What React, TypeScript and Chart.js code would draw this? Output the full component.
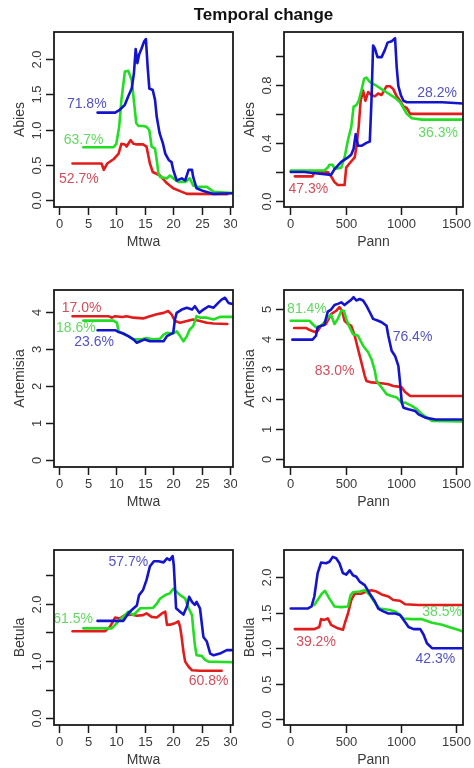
import React, { useEffect, useRef } from 'react';
import { Chart, registerables } from 'chart.js';

Chart.register(...registerables);

type Pt = [number, number];

// ---------- tick values / labels ----------
const mtwaTicks = [0, 5, 10, 15, 20, 25, 30];
const pannTicks = [0, 500, 1000, 1500];
const abiesMtwaYTicks = [0, 0.5, 1, 1.5, 2];
const abiesMtwaYLabels = ['0.0', '0.5', '1.0', '1.5', '2.0'];
const abiesPannYTicks = [0, 0.2, 0.4, 0.6, 0.8, 1.0];
const abiesPannYLabels = ['0.0', '', '0.4', '', '0.8', ''];
const artMtwaYTicks = [0, 1, 2, 3, 4];
const artMtwaYLabels = ['0', '1', '2', '3', '4'];
const artPannYTicks = [0, 1, 2, 3, 4, 5];
const artPannYLabels = ['0', '1', '2', '3', '4', '5'];
const betMtwaYTicks = [0, 0.5, 1, 1.5, 2, 2.5];
const betMtwaYLabels = ['0.0', '', '1.0', '', '2.0', ''];
const betPannYTicks = [0, 0.5, 1, 1.5, 2];
const betPannYLabels = ['0.0', '0.5', '1.0', '1.5', '2.0'];

// ---------- series (x, y) ----------
// Abies ~ Mtwa
const abiesMtwaRed: Pt[] = [[2.3,0.52],[7.4,0.52],[7.8,0.43],[8.4,0.52],[9.5,0.58],[10.4,0.66],[10.9,0.80],[11.5,0.79],[11.8,0.76],[12.1,0.80],[12.5,0.85],[13,0.80],[13.6,0.79],[14.7,0.79],[15.3,0.76],[15.6,0.64],[15.9,0.52],[16.4,0.40],[17.7,0.35],[18.9,0.24],[20,0.17],[21.2,0.13],[22.4,0.09],[23.5,0.09],[29.5,0.085]];
const abiesMtwaGreen: Pt[] = [[4.2,0.75],[9.5,0.75],[10,0.8],[10.5,1.04],[10.9,1.42],[11.5,1.82],[12.1,1.83],[12.7,1.70],[13.2,1.32],[13.5,1.09],[13.9,1.05],[14.7,1.05],[15.3,1.04],[15.8,0.99],[16.2,0.76],[16.8,0.73],[17.1,0.57],[17.4,0.38],[17.7,0.33],[18.9,0.31],[19.4,0.35],[20,0.31],[20.9,0.26],[22.1,0.26],[22.9,0.31],[23.5,0.21],[24.1,0.19],[25.9,0.19],[27.1,0.12],[30.6,0.10]];
const abiesMtwaBlue: Pt[] = [[6.7,1.24],[9.8,1.24],[10.6,1.28],[11.5,1.35],[12.1,1.47],[12.7,1.58],[13.1,1.80],[13.4,2.14],[13.7,1.94],[14.0,2.06],[14.4,2.14],[14.9,2.25],[15.2,2.28],[15.5,1.89],[15.8,1.58],[16.4,1.56],[16.8,1.42],[17.1,1.18],[17.6,0.95],[18.2,0.80],[18.6,0.66],[19.2,0.57],[19.7,0.54],[20.0,0.43],[20.6,0.28],[21.5,0.31],[22.1,0.28],[22.7,0.43],[23.3,0.43],[23.5,0.33],[24.1,0.17],[25.3,0.13],[27.1,0.09],[30.6,0.1]];

// Abies ~ Pann
const abiesPannRed: Pt[] = [[40,0.17],[201,0.17],[217,0.2],[339,0.2],[369,0.17],[400,0.13],[430,0.11],[491,0.11],[506,0.23],[537,0.26],[583,0.30],[598,0.37],[619,0.51],[637,0.69],[659,0.76],[680,0.69],[705,0.75],[735,0.73],[766,0.72],[796,0.74],[827,0.73],[872,0.79],[903,0.79],[933,0.77],[964,0.72],[994,0.69],[1025,0.65],[1055,0.64],[1086,0.60],[1147,0.60],[1589,0.60]];
const abiesPannGreen: Pt[] = [[3,0.21],[308,0.21],[339,0.23],[354,0.25],[384,0.25],[400,0.22],[461,0.23],[491,0.30],[522,0.42],[552,0.51],[573,0.65],[598,0.66],[619,0.69],[644,0.76],[668,0.84],[689,0.85],[720,0.82],[766,0.80],[827,0.77],[888,0.74],[949,0.71],[994,0.68],[1025,0.64],[1055,0.60],[1101,0.57],[1193,0.56],[1589,0.56]];
const abiesPannBlue: Pt[] = [[3,0.2],[125,0.2],[247,0.19],[369,0.18],[400,0.22],[461,0.27],[522,0.30],[552,0.32],[573,0.36],[592,0.46],[613,0.38],[644,0.38],[689,0.40],[720,0.41],[735,0.69],[750,1.07],[766,1.05],[790,0.99],[827,0.99],[857,1.04],[881,1.09],[918,1.10],[949,1.12],[964,0.92],[979,0.79],[1001,0.73],[1025,0.69],[1055,0.68],[1254,0.68],[1376,0.68],[1589,0.67]];

// Artemisia ~ Mtwa
const artMtwaRed: Pt[] = [[2.3,3.89],[8.6,3.89],[9.2,3.85],[9.8,3.89],[11,3.87],[11.8,3.89],[13,3.85],[14.7,3.83],[15.9,3.89],[17.1,3.94],[18.3,3.98],[19.1,4.03],[19.7,3.94],[20.3,3.76],[21.2,3.71],[22.4,3.76],[23.5,3.80],[24.7,3.76],[25.9,3.71],[27.1,3.69],[29.5,3.68]];
const artMtwaGreen: Pt[] = [[4.2,3.77],[9.5,3.77],[10.1,3.71],[10.4,3.48],[11.2,3.42],[12.1,3.35],[13,3.26],[14.2,3.26],[15.3,3.30],[16.5,3.26],[17.7,3.28],[18.3,3.39],[18.9,3.44],[20,3.42],[20.6,3.48],[21.2,3.35],[21.8,3.21],[22.4,3.35],[22.9,3.53],[23.5,3.62],[24.1,3.89],[24.7,3.85],[25.9,3.85],[27.1,3.80],[28.2,3.87],[30.6,3.87]];
const artMtwaBlue: Pt[] = [[6.7,3.51],[9.8,3.51],[10.4,3.46],[11.2,3.42],[12.1,3.35],[13.0,3.26],[13.6,3.17],[14.2,3.21],[15.0,3.26],[15.9,3.21],[17.1,3.21],[18.3,3.21],[18.9,3.35],[19.4,3.39],[20,3.44],[20.3,3.80],[20.6,3.98],[21.5,4.07],[22.4,4.12],[23.3,4.07],[23.8,4.16],[24.6,3.98],[25.3,4.07],[26.2,4.16],[27.1,4.12],[27.9,4.25],[28.5,4.34],[29.1,4.39],[29.7,4.25],[30.6,4.21]];

// Artemisia ~ Pann
const artPannRed: Pt[] = [[34,4.37],[140,4.37],[171,4.31],[217,4.24],[247,4.27],[278,4.44],[323,4.5],[369,4.83],[415,4.94],[445,5.06],[467,4.94],[491,4.61],[522,4.5],[552,4.44],[583,4.11],[613,3.67],[644,3.22],[674,2.78],[689,2.61],[735,2.56],[827,2.53],[888,2.5],[933,2.44],[979,2.42],[1010,2.39],[1040,2.24],[1086,2.11],[1193,2.11],[1589,2.11]];
const artPannGreen: Pt[] = [[3,4.61],[171,4.61],[201,4.5],[232,4.39],[278,4.44],[308,4.56],[339,4.72],[369,4.8],[400,4.5],[430,4.67],[461,4.94],[485,4.94],[506,4.67],[537,4.39],[567,4.17],[613,4.11],[659,3.78],[705,3.56],[735,3.33],[766,2.94],[781,2.61],[827,2.39],[872,2.17],[918,2.11],[964,2.06],[1010,1.89],[1040,1.89],[1101,1.78],[1147,1.67],[1193,1.5],[1284,1.28],[1589,1.26]];
const artPannBlue: Pt[] = [[18,3.98],[201,3.98],[232,4.11],[247,4.39],[278,4.44],[308,4.47],[339,4.91],[369,4.98],[400,5.13],[430,5.17],[461,5.22],[491,5.13],[522,5.22],[552,5.31],[573,5.39],[598,5.28],[628,5.33],[659,5.28],[689,5.11],[720,4.89],[750,4.67],[796,4.61],[827,4.56],[872,4.44],[888,4.11],[918,3.61],[949,3.44],[979,3.11],[994,2.56],[1010,1.89],[1025,1.72],[1071,1.67],[1132,1.61],[1162,1.5],[1223,1.39],[1315,1.33],[1589,1.33]];

// Betula ~ Mtwa
const betMtwaRed: Pt[] = [[2.3,1.52],[8.0,1.52],[8.9,1.6],[9.8,1.76],[10.6,1.74],[11.5,1.8],[12.7,1.81],[13.6,1.79],[14.7,1.8],[15.3,1.83],[16.2,1.77],[17.1,1.76],[18,1.83],[18.6,1.86],[18.9,1.63],[19.7,1.64],[20.3,1.66],[20.9,1.69],[21.2,1.6],[21.5,1.40],[21.8,1.16],[22.1,0.99],[22.7,0.90],[23.3,0.84],[24.7,0.83],[28.5,0.83]];
const betMtwaGreen: Pt[] = [[4.2,1.57],[9.2,1.57],[9.8,1.63],[10.6,1.72],[11.5,1.80],[12.1,1.86],[13,1.80],[14.2,1.92],[15.3,1.92],[16.5,1.93],[17.1,2.0],[17.7,2.09],[18.6,2.15],[19.4,2.18],[20,2.26],[20.6,2.21],[21.2,2.15],[22.1,2.09],[22.7,1.92],[23.3,1.80],[23.5,1.57],[23.8,1.28],[24.1,1.10],[25.0,1.09],[25.6,1.02],[26.2,0.99],[30.6,0.98]];
const betMtwaBlue: Pt[] = [[6.7,1.70],[11.2,1.70],[11.5,1.74],[12.1,1.83],[12.7,1.89],[13.6,1.97],[14,2.15],[14.7,2.24],[15.3,2.41],[15.9,2.65],[16.6,2.74],[17.4,2.74],[18.3,2.72],[18.9,2.79],[19.4,2.76],[19.9,2.83],[20.1,2.67],[20.5,1.92],[21.2,1.86],[21.8,1.81],[22.4,1.95],[22.8,2.12],[23.3,2.03],[23.8,1.98],[24.1,2.03],[24.7,1.92],[25.3,1.42],[25.9,1.34],[26.5,1.13],[27.1,1.10],[28.2,1.13],[29.4,1.19],[30.6,1.19]];

// Betula ~ Pann
const betPannRed: Pt[] = [[40,1.27],[217,1.27],[262,1.30],[278,1.41],[308,1.40],[339,1.42],[369,1.33],[430,1.28],[476,1.26],[497,1.37],[522,1.49],[552,1.68],[583,1.77],[644,1.77],[689,1.80],[735,1.82],[781,1.80],[827,1.76],[888,1.73],[933,1.68],[994,1.67],[1040,1.62],[1162,1.61],[1589,1.61]];
const betPannGreen: Pt[] = [[217,1.61],[247,1.68],[284,1.77],[314,1.81],[354,1.70],[400,1.59],[461,1.58],[522,1.59],[546,1.75],[567,1.79],[628,1.80],[674,1.82],[720,1.75],[750,1.68],[781,1.61],[811,1.56],[857,1.55],[903,1.54],[949,1.52],[994,1.47],[1025,1.42],[1101,1.41],[1193,1.41],[1284,1.36],[1376,1.33],[1437,1.30],[1498,1.27],[1559,1.24],[1589,1.20]];
const betPannBlue: Pt[] = [[3,1.56],[156,1.56],[192,1.59],[217,1.73],[247,2.06],[278,2.21],[323,2.20],[354,2.22],[384,2.29],[415,2.27],[445,2.20],[476,2.06],[506,2.04],[537,2.10],[567,2.03],[598,2.01],[628,1.94],[674,1.89],[720,1.77],[766,1.66],[796,1.56],[842,1.52],[888,1.49],[949,1.49],[994,1.47],[1040,1.37],[1071,1.30],[1117,1.27],[1178,1.27],[1208,1.19],[1238,1.07],[1284,1.00],[1589,1.00]];

// ---------- percentage annotations: [text, x, y] in order blue, green, red ----------
type Ann = [string, number, number];
const abiesMtwaAnn: Ann[] = [['71.8%', 4.8, 1.36], ['63.7%', 4.25, 0.85], ['52.7%', 3.43, 0.30]];
const abiesPannAnn: Ann[] = [['28.2%', 1330, 0.745], ['36.3%', 1339, 0.464], ['47.3%', 162, 0.08]];
const artMtwaAnn: Ann[] = [['23.6%', 6.1, 3.19], ['18.6%', 2.9, 3.57], ['17.0%', 3.9, 4.12]];
const artPannAnn: Ann[] = [['76.4%', 1107, 4.06], ['81.4%', 150, 5.0], ['83.0%', 400, 2.94]];
const betMtwaAnn: Ann[] = [['57.7%', 12.1, 2.73], ['61.5%', 2.4, 1.73], ['60.8%', 26.2, 0.65]];
const betPannAnn: Ann[] = [['42.3%', 1315, 0.84], ['38.5%', 1376, 1.51], ['39.2%', 232, 1.08]];

// ---------- styling ----------
const LINE = { blue: '#1414cc', green: '#22dd22', red: '#e21b1b' };
const TEXT_COLORS = ['#5252c4', '#62d862', '#d24e5c'];
const FONT = '"Liberation Sans", Arial, Helvetica, sans-serif';

interface PanelCfg {
  left: number; top: number; w: number; h: number;
  pad: { left: number; right: number; top: number; bottom: number };
  xMin: number; xMax: number; yMin: number; yMax: number;
  xTicks: number[]; yTicks: number[]; yLabels: string[];
  xTitle: string; yTitle: string;
  blue: Pt[]; green: Pt[]; red: Pt[];
  ann: Ann[];
}

const MTWA = { xMin: -0.95, xMax: 30.5, xTicks: mtwaTicks, xTitle: 'Mtwa' };
const PANN = { xMin: -58, xMax: 1565, xTicks: pannTicks, xTitle: 'Pann' };
const LPAD = { left: 54, right: 4 };
const RPAD = { left: 47, right: 11 };

const panels: PanelCfg[] = [
  { left: 0, top: 0, w: 237, h: 256, pad: { ...LPAD, top: 32, bottom: 49 }, ...MTWA, yMin: -0.095, yMax: 2.38, yTicks: abiesMtwaYTicks, yLabels: abiesMtwaYLabels, yTitle: 'Abies', blue: abiesMtwaBlue, green: abiesMtwaGreen, red: abiesMtwaRed, ann: abiesMtwaAnn },
  { left: 237, top: 0, w: 237, h: 256, pad: { ...RPAD, top: 32, bottom: 49 }, ...PANN, yMin: -0.041, yMax: 1.163, yTicks: abiesPannYTicks, yLabels: abiesPannYLabels, yTitle: 'Abies', blue: abiesPannBlue, green: abiesPannGreen, red: abiesPannRed, ann: abiesPannAnn },
  { left: 0, top: 256, w: 237, h: 256, pad: { ...LPAD, top: 34, bottom: 45 }, ...MTWA, yMin: -0.2, yMax: 4.6, yTicks: artMtwaYTicks, yLabels: artMtwaYLabels, yTitle: 'Artemisia', blue: artMtwaBlue, green: artMtwaGreen, red: artMtwaRed, ann: artMtwaAnn },
  { left: 237, top: 256, w: 237, h: 256, pad: { ...RPAD, top: 34, bottom: 45 }, ...PANN, yMin: -0.25, yMax: 5.63, yTicks: artPannYTicks, yLabels: artPannYLabels, yTitle: 'Artemisia', blue: artPannBlue, green: artPannGreen, red: artPannRed, ann: artPannAnn },
  { left: 0, top: 512, w: 237, h: 256, pad: { ...LPAD, top: 38, bottom: 43 }, ...MTWA, yMin: -0.115, yMax: 2.936, yTicks: betMtwaYTicks, yLabels: betMtwaYLabels, yTitle: 'Betula', blue: betMtwaBlue, green: betMtwaGreen, red: betMtwaRed, ann: betMtwaAnn },
  { left: 237, top: 512, w: 237, h: 256, pad: { ...RPAD, top: 38, bottom: 43 }, ...PANN, yMin: -0.085, yMax: 2.387, yTicks: betPannYTicks, yLabels: betPannYLabels, yTitle: 'Betula', blue: betPannBlue, green: betPannGreen, red: betPannRed, ann: betPannAnn },
];

function makeAxesPlugin(c: PanelCfg) {
  return {
    id: 'rStyleAxes',
    afterDatasetsDraw(chart: any) {
      const { ctx, chartArea: a, scales } = chart;
      const xs = scales.x;
      const ys = scales.y;
      ctx.save();
      ctx.beginPath();
      ctx.rect(a.left, a.top, a.right - a.left, a.bottom - a.top);
      ctx.clip();
      ctx.font = `14px ${FONT}`;
      ctx.textAlign = 'center';
      ctx.textBaseline = 'middle';
      c.ann.forEach((an, i) => {
        ctx.fillStyle = TEXT_COLORS[i];
        ctx.fillText(an[0], xs.getPixelForValue(an[1]), ys.getPixelForValue(an[2]));
      });
      ctx.restore();
    },
    afterDraw(chart: any) {
      const { ctx, chartArea: a, scales } = chart;
      const xs = scales.x;
      const ys = scales.y;
      ctx.save();
      ctx.strokeStyle = '#1a1a1a';
      ctx.lineWidth = 1.8;
      ctx.strokeRect(a.left, a.top, a.right - a.left, a.bottom - a.top);
      ctx.lineWidth = 1.5;
      ctx.fillStyle = '#3a3a3a';
      ctx.font = `13px ${FONT}`;
      ctx.textAlign = 'center';
      ctx.textBaseline = 'middle';
      const tl = 8;
      c.xTicks.forEach((v) => {
        const px = Math.round(xs.getPixelForValue(v)) + 0.5;
        ctx.beginPath();
        ctx.moveTo(px, a.bottom);
        ctx.lineTo(px, a.bottom + tl);
        ctx.stroke();
        ctx.fillText(String(v), px, a.bottom + 17);
      });
      c.yTicks.forEach((v, i) => {
        const py = Math.round(ys.getPixelForValue(v)) + 0.5;
        ctx.beginPath();
        ctx.moveTo(a.left - tl, py);
        ctx.lineTo(a.left, py);
        ctx.stroke();
        const lab = c.yLabels[i];
        if (lab) {
          ctx.save();
          ctx.translate(a.left - 17, py);
          ctx.rotate(-Math.PI / 2);
          ctx.fillText(lab, 0, 0);
          ctx.restore();
        }
      });
      ctx.font = `14px ${FONT}`;
      ctx.fillText(c.xTitle, (a.left + a.right) / 2, a.bottom + 35);
      ctx.save();
      ctx.translate(a.left - 34, (a.top + a.bottom) / 2);
      ctx.rotate(-Math.PI / 2);
      ctx.fillText(c.yTitle, 0, 0);
      ctx.restore();
      ctx.restore();
    },
  };
}

function Panel({ c }: { c: PanelCfg }) {
  const ref = useRef<HTMLCanvasElement>(null);
  useEffect(() => {
    if (!ref.current) return;
    const series = [
      { d: c.blue, col: LINE.blue },
      { d: c.green, col: LINE.green },
      { d: c.red, col: LINE.red },
    ];
    const chart = new Chart(ref.current, {
      type: 'line',
      data: {
        datasets: series.map((s) => ({
          data: s.d.map(([x, y]) => ({ x, y })),
          borderColor: s.col,
          backgroundColor: s.col,
          borderWidth: 2.6,
          pointRadius: 0,
          tension: 0,
          fill: false,
          borderJoinStyle: 'round' as const,
          borderCapStyle: 'round' as const,
        })),
      },
      options: {
        animation: false,
        responsive: false,
        devicePixelRatio: 1,
        events: [],
        layout: { padding: c.pad },
        plugins: { legend: { display: false }, tooltip: { enabled: false }, title: { display: false } },
        scales: {
          x: { type: 'linear', min: c.xMin, max: c.xMax, display: false },
          y: { type: 'linear', min: c.yMin, max: c.yMax, display: false },
        },
      },
      plugins: [makeAxesPlugin(c)],
    });
    return () => chart.destroy();
  }, [c]);
  return (
    <canvas
      ref={ref}
      width={c.w}
      height={c.h}
      style={{ position: 'absolute', left: c.left, top: c.top, width: c.w, height: c.h }}
    />
  );
}

export default function App() {
  return (
    <div style={{ position: 'absolute', left: 0, top: 0, width: 474, height: 768, background: '#fff', overflow: 'hidden' }}>
      {panels.map((p, i) => (
        <Panel key={i} c={p} />
      ))}
      <div
        style={{
          position: 'absolute',
          left: 263.5,
          top: 5,
          transform: 'translateX(-50%)',
          font: `bold 17px ${FONT}`,
          lineHeight: '20px',
          color: '#111',
          whiteSpace: 'nowrap',
        }}
      >
        Temporal change
      </div>
    </div>
  );
}
